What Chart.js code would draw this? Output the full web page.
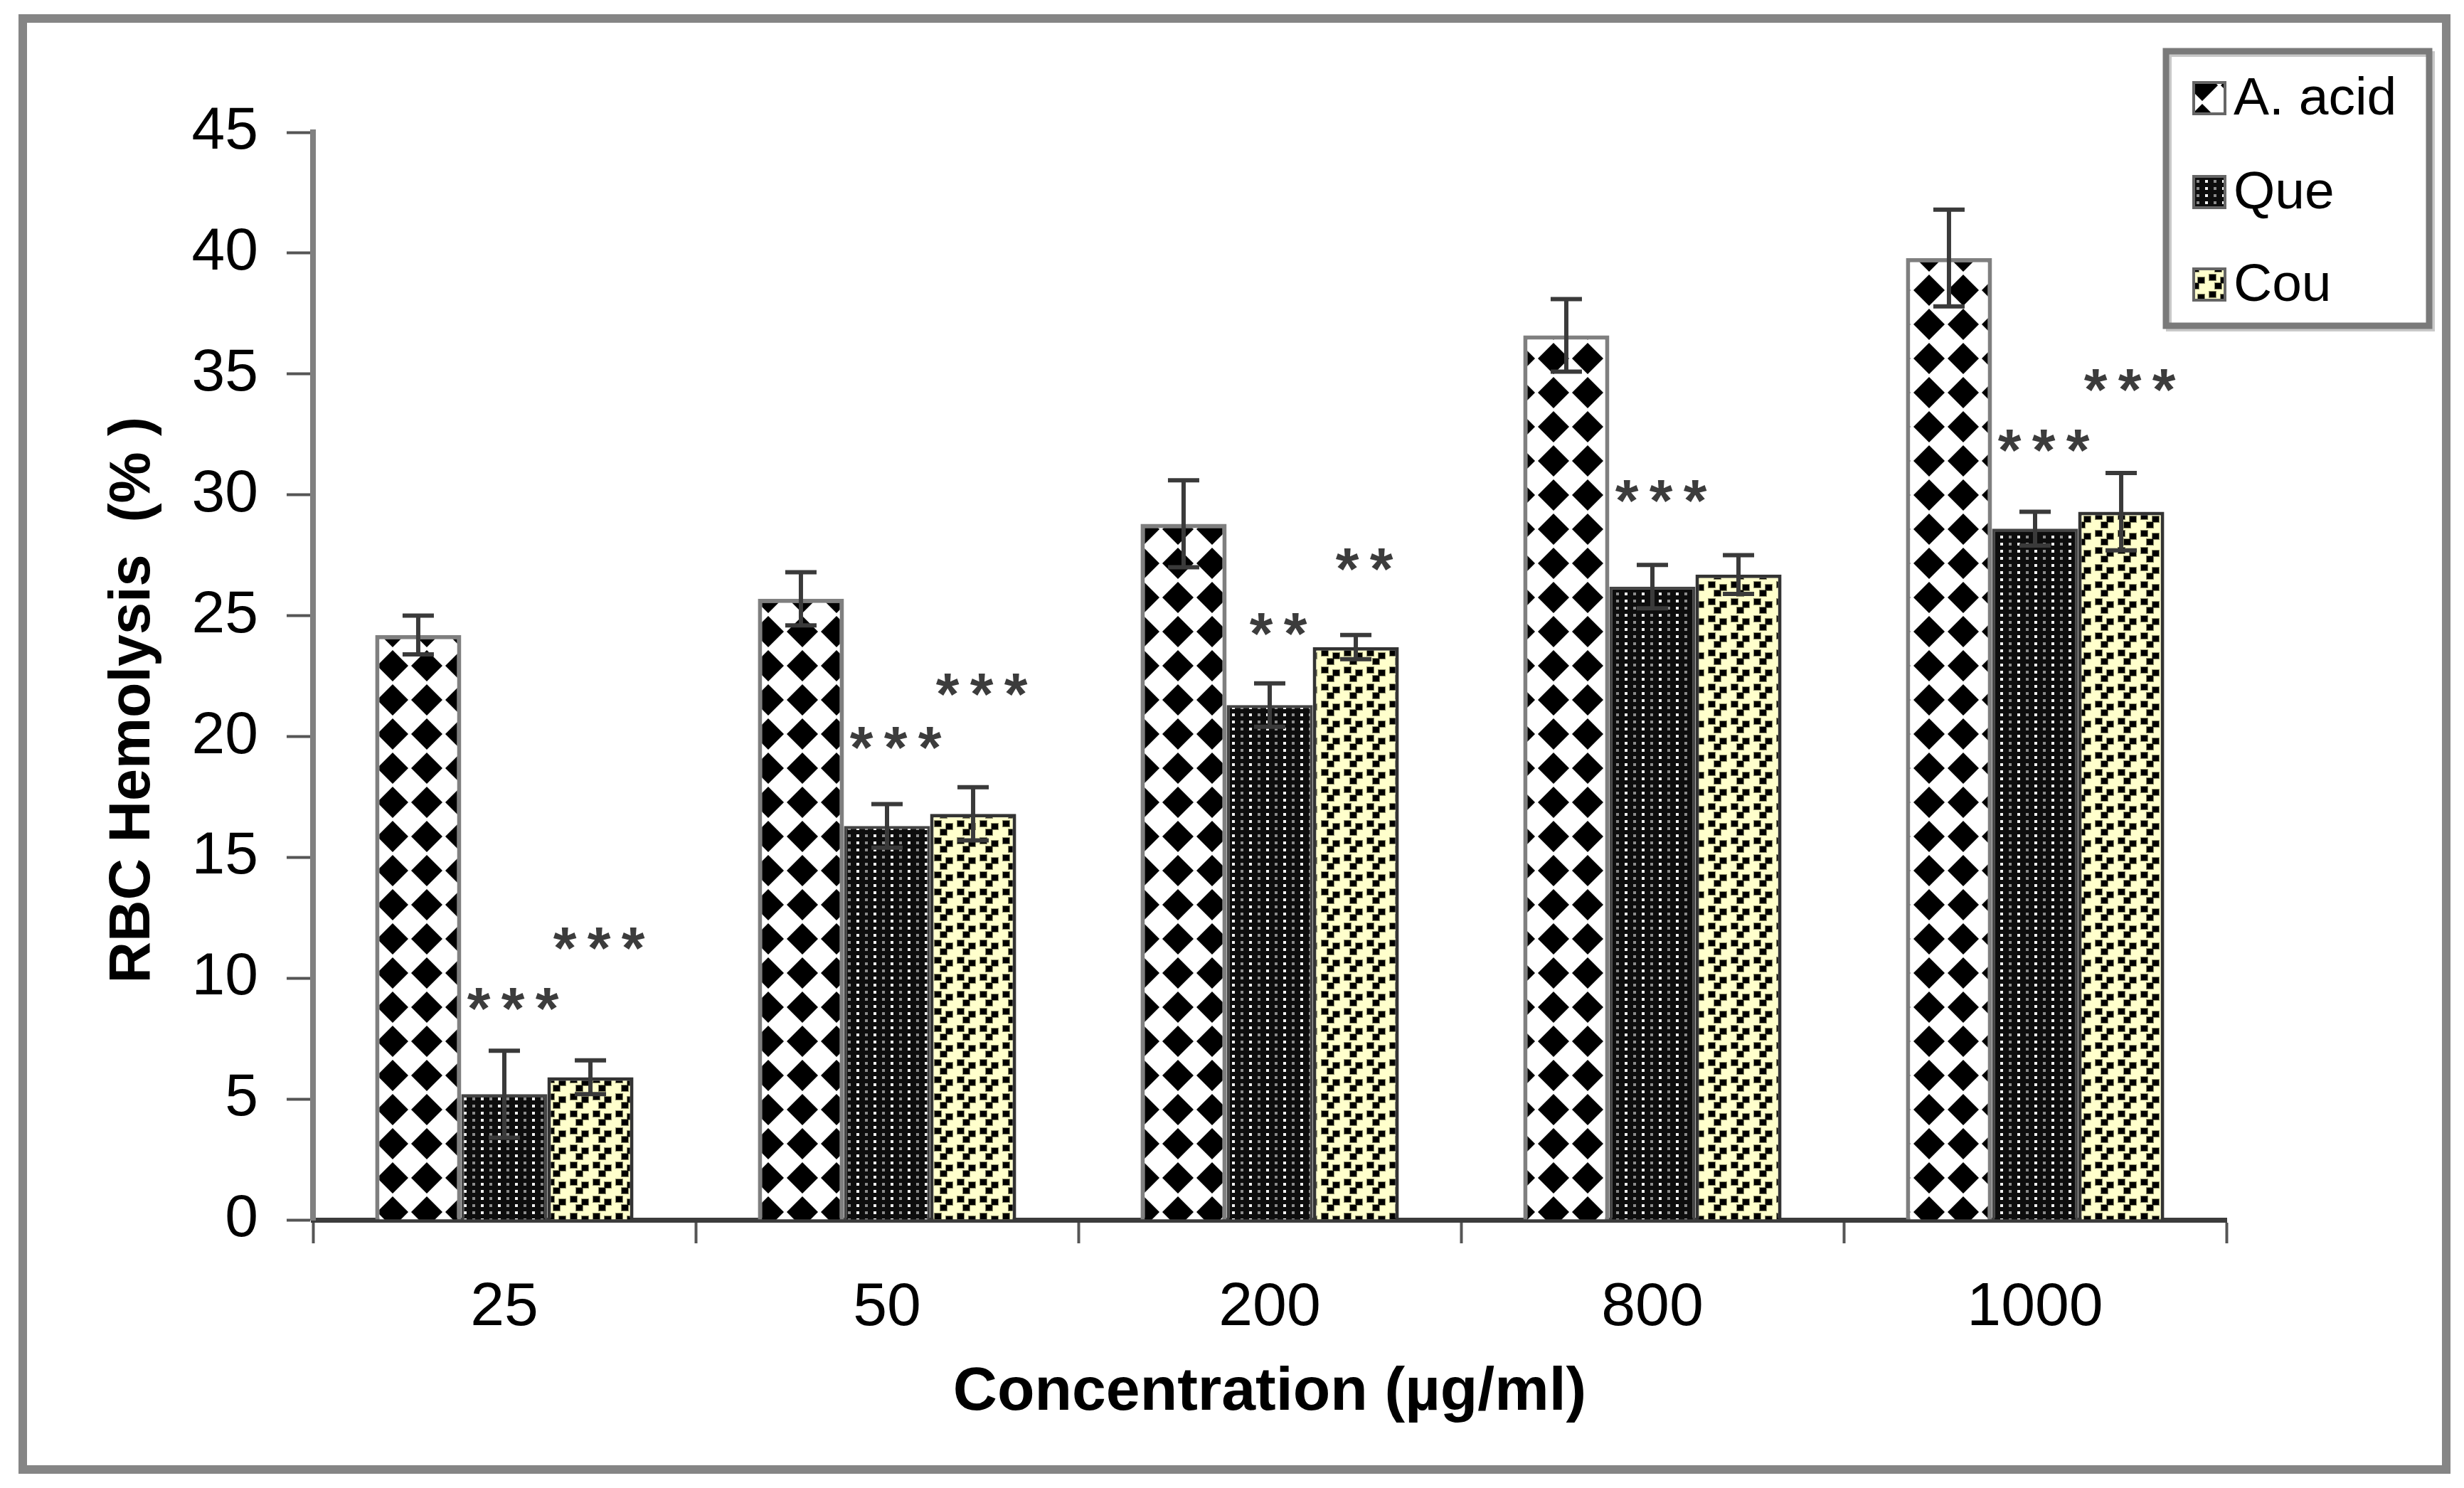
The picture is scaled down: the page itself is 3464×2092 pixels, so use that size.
<!DOCTYPE html>
<html>
<head>
<meta charset="utf-8">
<title>RBC Hemolysis</title>
<script src="https://cdn.jsdelivr.net/npm/chart.js@4.4.0/dist/chart.umd.min.js"></script>
<style>
  html, body { margin: 0; padding: 0; background: #fff; }
  canvas { display: block; }
</style>
</head>
<body>
<canvas id="chart" width="3464" height="2092"></canvas>
<script>
const concentrations = ["25", "50", "200", "800", "1000"];
const seriesLabels = ["A. acid", "Que", "Cou"];

const acidValues = [24.2, 25.7, 28.8, 36.6, 39.8];
const acidErrors = [0.8, 1.1, 1.8, 1.5, 2.0];
const queValues = [5.2, 16.3, 21.3, 26.2, 28.6];
const queErrors = [1.8, 0.9, 0.9, 0.9, 0.7];
const couValues = [5.9, 16.8, 23.7, 26.7, 29.3];
const couErrors = [0.7, 1.1, 0.5, 0.8, 1.6];

// significance stars and the value they sit at
const queMarks = ["***", "***", "**", "***", "***"];
const queMarkAt = [9.3, 20.1, 24.8, 30.3, 32.4];
const couMarks = ["***", "***", "**", "", "***"];
const couMarkAt = [11.8, 22.3, 27.5, 0, 34.9];

const yMin = 0;
const yMax = 45;
const yStep = 5;

(() => {
  const FONT = '"Liberation Sans", Arial, sans-serif';
  Chart.defaults.font.family = FONT;
  Chart.defaults.color = "#000";

  function tile(w, h, draw) {
    const c = document.createElement("canvas");
    c.width = w;
    c.height = h;
    draw(c.getContext("2d"));
    return document.createElement("canvas").getContext("2d").createPattern(c, "repeat");
  }

  const diamondPattern = tile(48, 48, (g) => {
    g.fillStyle = "#fff";
    g.fillRect(0, 0, 48, 48);
    g.fillStyle = "#000";
    g.beginPath();
    g.moveTo(24, 2);
    g.lineTo(46, 24);
    g.lineTo(24, 46);
    g.lineTo(2, 24);
    g.closePath();
    g.fill();
  });

  const gridPattern = tile(24, 10, (g) => {
    g.fillStyle = "#0d0d0d";
    g.fillRect(0, 0, 24, 10);
    g.fillStyle = "#f4f4f4";
    g.fillRect(4, 3, 4, 4);
    g.fillStyle = "#8c8c8c";
    g.fillRect(16, 3, 4, 4);
  });

  const dashPattern = tile(32, 24, (g) => {
    g.fillStyle = "#ffffcc";
    g.fillRect(0, 0, 32, 24);
    g.fillStyle = "#8c8c66";
    g.fillRect(1, 1, 11, 10);
    g.fillRect(17, 5, 11, 10);
    g.fillRect(9, 13, 11, 10);
    g.fillStyle = "#000";
    g.fillRect(2, 2, 9, 8);
    g.fillRect(18, 6, 9, 8);
    g.fillRect(10, 14, 9, 8);
  });

  const framePlugin = {
    id: "frame",
    beforeDraw(chart) {
      const ctx = chart.ctx;
      ctx.save();
      ctx.fillStyle = "#fff";
      ctx.fillRect(0, 0, chart.width, chart.height);
      ctx.strokeStyle = "#858585";
      ctx.lineWidth = 12;
      ctx.strokeRect(32, 26, 3407, 2040);
      ctx.restore();
    }
  };

  const errorBarPlugin = {
    id: "errorBars",
    afterDatasetsDraw(chart) {
      const ctx = chart.ctx;
      const yScale = chart.scales.y;
      ctx.save();
      ctx.strokeStyle = "#3a3a3a";
      ctx.lineWidth = 6;
      chart.data.datasets.forEach((dataset, d) => {
        const meta = chart.getDatasetMeta(d);
        meta.data.forEach((bar, i) => {
          const v = dataset.data[i];
          const e = dataset.errors[i];
          const top = yScale.getPixelForValue(v + e);
          const bottom = yScale.getPixelForValue(v - e);
          ctx.beginPath();
          ctx.moveTo(bar.x, top);
          ctx.lineTo(bar.x, bottom);
          ctx.moveTo(bar.x - 22, top);
          ctx.lineTo(bar.x + 22, top);
          ctx.moveTo(bar.x - 22, bottom);
          ctx.lineTo(bar.x + 22, bottom);
          ctx.stroke();
        });
      });
      ctx.restore();
    }
  };

  const starPlugin = {
    id: "stars",
    afterDatasetsDraw(chart) {
      const ctx = chart.ctx;
      const yScale = chart.scales.y;
      ctx.save();
      ctx.fillStyle = "#3c3c3c";
      ctx.font = "bold 84px " + FONT;
      ctx.textAlign = "center";
      ctx.textBaseline = "alphabetic";
      chart.data.datasets.forEach((dataset, d) => {
        if (!dataset.marks) {
          return;
        }
        const meta = chart.getDatasetMeta(d);
        meta.data.forEach((bar, i) => {
          const mark = dataset.marks[i];
          if (!mark) {
            return;
          }
          const y = yScale.getPixelForValue(dataset.markAt[i]) + 48;
          const n = mark.length;
          for (let k = 0; k < n; k++) {
            ctx.fillText("*", bar.x + 12 + (k - (n - 1) / 2) * 48, y);
          }
        });
      });
      ctx.restore();
    }
  };

  const legendPlugin = {
    id: "boxLegend",
    afterDraw(chart) {
      const ctx = chart.ctx;
      ctx.save();
      ctx.fillStyle = "#fff";
      ctx.fillRect(3045, 72, 370, 386);
      ctx.strokeStyle = "#c8c8c8";
      ctx.lineWidth = 8;
      ctx.strokeRect(3049, 76, 370, 386);
      ctx.strokeStyle = "#7a7a7a";
      ctx.lineWidth = 9;
      ctx.strokeRect(3045, 72, 370, 386);
      ctx.font = "75px " + FONT;
      ctx.textBaseline = "middle";
      ctx.textAlign = "left";
      const rows = [138, 270, 400];
      chart.data.datasets.forEach((dataset, d) => {
        const y = rows[d];
        ctx.fillStyle = dataset.backgroundColor;
        ctx.fillRect(3084, y - 22, 44, 44);
        ctx.strokeStyle = "#666";
        ctx.lineWidth = 4;
        ctx.strokeRect(3084, y - 22, 44, 44);
        ctx.fillStyle = "#000";
        ctx.fillText(dataset.label, 3140, y + 2);
      });
      ctx.restore();
    }
  };

  const canvas = document.getElementById("chart");

  new Chart(canvas.getContext("2d"), {
    type: "bar",
    data: {
      labels: concentrations,
      datasets: [
        {
          label: seriesLabels[0],
          data: acidValues,
          errors: acidErrors,
          backgroundColor: diamondPattern,
          borderColor: "#7f7f7f",
          borderWidth: 6
        },
        {
          label: seriesLabels[1],
          data: queValues,
          errors: queErrors,
          marks: queMarks,
          markAt: queMarkAt,
          backgroundColor: gridPattern,
          borderColor: "#444",
          borderWidth: 4
        },
        {
          label: seriesLabels[2],
          data: couValues,
          errors: couErrors,
          marks: couMarks,
          markAt: couMarkAt,
          backgroundColor: dashPattern,
          borderColor: "#333",
          borderWidth: 5
        }
      ]
    },
    options: {
      responsive: false,
      devicePixelRatio: 1,
      animation: false,
      categoryPercentage: 0.675,
      barPercentage: 1.0,
      layout: {
        padding: { top: 186, right: 334, left: 0, bottom: 0 }
      },
      plugins: {
        legend: { display: false },
        tooltip: { enabled: false }
      },
      scales: {
        x: {
          afterFit(scale) {
            scale.height = 377;
          },
          grid: {
            display: true,
            offset: true,
            drawOnChartArea: false,
            drawTicks: true,
            tickLength: 33,
            tickWidth: 4,
            tickColor: "#555"
          },
          border: { display: true, color: "#3c3c3c", width: 7 },
          ticks: {
            padding: 40,
            font: { size: 86 },
            color: "#000"
          },
          title: {
            display: true,
            text: "Concentration (µg/ml)",
            font: { size: 86, weight: "bold" },
            padding: { top: 0, bottom: 82 },
            color: "#000"
          }
        },
        y: {
          min: yMin,
          max: yMax,
          afterFit(scale) {
            scale.width = 440;
          },
          ticks: {
            stepSize: yStep,
            padding: 40,
            font: { size: 84 },
            color: "#000"
          },
          grid: {
            display: true,
            drawOnChartArea: false,
            drawTicks: true,
            tickLength: 37,
            tickWidth: 4,
            tickColor: "#555"
          },
          border: { display: true, color: "#808080", width: 8 },
          title: {
            display: true,
            text: "RBC Hemolysis  (% )   ",
            font: { size: 81, weight: "bold" },
            padding: { top: 139, bottom: 0 },
            color: "#000"
          }
        }
      }
    },
    plugins: [framePlugin, errorBarPlugin, starPlugin, legendPlugin]
  });
})();
</script>
</body>
</html>
